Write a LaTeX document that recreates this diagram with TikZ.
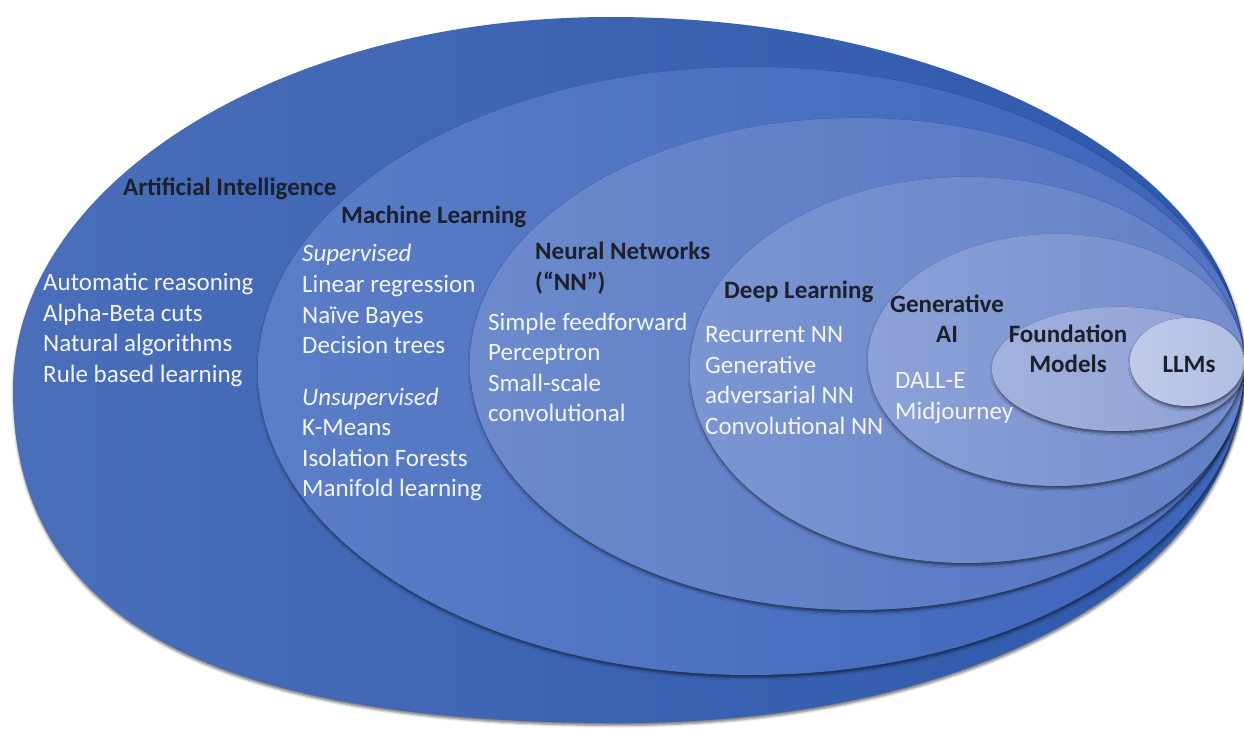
\documentclass[tikz,border=0pt]{standalone}
\usepackage{fontspec}
\setmainfont{Carlito}
\usetikzlibrary{shadows.blur}

\definecolor{labelink}{RGB}{28,32,42}
\definecolor{listink}{RGB}{244,246,252}

\begin{document}
\begin{tikzpicture}[x=1pt,y=-1pt,
  layer/.style={blur shadow={shadow xshift=0.6pt, shadow yshift=-2.4pt,
      shadow blur radius=2.6pt, shadow opacity=55}},
  item/.style={anchor=west, inner sep=0pt, text=listink,
      font=\fontsize{25}{30}\selectfont, text height=17pt, text depth=6pt},
  hitem/.style={item, font=\itshape\fontsize{25}{30}\selectfont},
  title/.style={inner sep=0pt, text=labelink,
      font=\bfseries\fontsize{25}{30}\selectfont, text height=17pt, text depth=6pt},
  ctitle/.style={title, align=center}
]
\useasboundingbox (0,0) rectangle (1244,728);

% outer field: slightly fuller towards the lower left
\path[layer, left color={rgb,255:red,74;green,110;blue,186},
      right color={rgb,255:red,45;green,88;blue,170}]
  (1244,366) .. controls (1244,173) and (960,17) .. (610,17)
  .. controls (280,17) and (13,184) .. (13,390)
  .. controls (13,616) and (207,723) .. (620,723)
  .. controls (982,723) and (1244,573) .. (1244,366) -- cycle;

% nested fields
\path[layer, left color={rgb,255:red,92;green,126;blue,200},
      right color={rgb,255:red,60;green,100;blue,186}]
  (751,371) ellipse [x radius=493, y radius=304];
\path[layer, left color={rgb,255:red,108;green,138;blue,204},
      right color={rgb,255:red,82;green,115;blue,194}]
  (857,364) ellipse [x radius=387, y radius=246];
\path[layer, left color={rgb,255:red,124;green,150;blue,210},
      right color={rgb,255:red,98;green,128;blue,199}]
  (967,370) ellipse [x radius=277, y radius=193];
\path[layer, left color={rgb,255:red,141;green,162;blue,216},
      right color={rgb,255:red,116;green,140;blue,205}]
  (1056,360) ellipse [x radius=188, y radius=126];
\path[layer, left color={rgb,255:red,163;green,178;blue,222},
      right color={rgb,255:red,140;green,158;blue,212}]
  (1118,369) ellipse [x radius=126, y radius=62];
\path[layer, left color={rgb,255:red,192;green,203;blue,233},
      right color={rgb,255:red,176;green,190;blue,226}]
  (1187,362) ellipse [x radius=57, y radius=44];

% Artificial Intelligence
\node[title, anchor=west] (aiT) at (123,190) {Artificial Intelligence};
\foreach \t [count=\i] in {Automatic reasoning, Alpha-Beta cuts,
    Natural algorithms, Rule based learning}
  \node[item] (ai\i) at (43,{285+30.7*(\i-1)}) {\t};

% Machine Learning
\node[title, anchor=west] (mlT) at (341,218) {Machine Learning};
\node[hitem] (mlSup) at (302,256) {Supervised};
\foreach \t [count=\i] in {Linear regression, Naïve Bayes, Decision trees}
  \node[item] (mlS\i) at (302,{287+30.7*(\i-1)}) {\t};
\node[hitem] (mlUns) at (302,400) {Unsupervised};
\foreach \t [count=\i] in {K-Means, Isolation Forests, Manifold learning}
  \node[item] (mlU\i) at (302,{430+30.7*(\i-1)}) {\t};

% Neural Networks
\node[title, anchor=west] (nnT) at (535,254) {Neural Networks};
\node[title, anchor=west] (nnT2) at (535,285) {(“NN”)};
\foreach \t [count=\i] in {Simple feedforward, Perceptron, Small-scale, convolutional}
  \node[item] (nn\i) at (488,{325+30.4*(\i-1)}) {\t};

% Deep Learning
\node[title, anchor=west] (dlT) at (724,293) {Deep Learning};
\foreach \t [count=\i] in {Recurrent NN, Generative, adversarial NN, Convolutional NN}
  \node[item] (dl\i) at (705,{337+30.7*(\i-1)}) {\t};

% Generative AI
\node[ctitle] (gaT) at (947,337) {Generative\\AI};
\node[item] (ga1) at (895,383) {DALL-E};
\node[item] (ga2) at (895,414) {Midjourney};

% Foundation Models and LLMs
\node[ctitle] (fmT) at (1068,367) {Foundation\\Models};
\node[title] (llmT) at (1189,367) {LLMs};
\end{tikzpicture}
\end{document}
